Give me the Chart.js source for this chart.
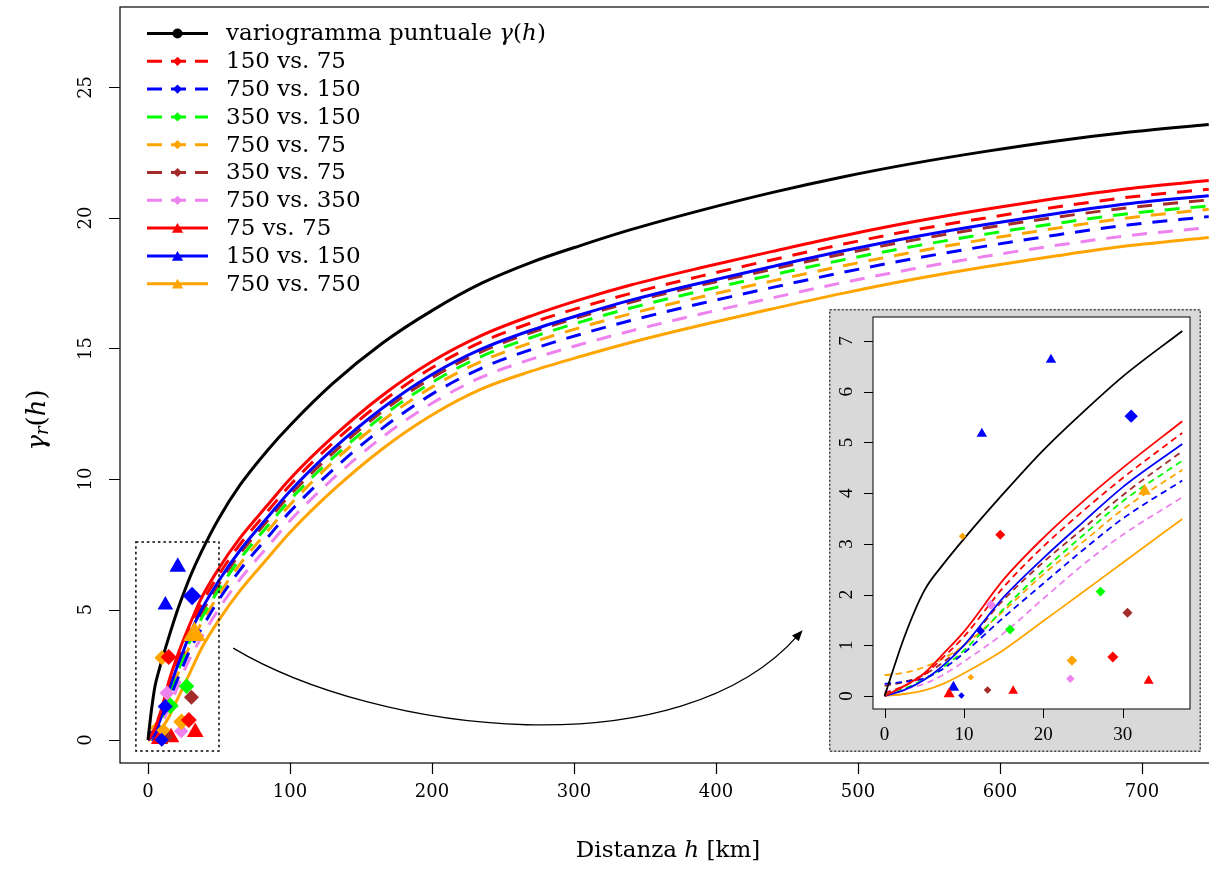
<!DOCTYPE html>
<html>
<head>
<meta charset="utf-8">
<title>Variogramma regolarizzato</title>
<script src="https://cdn.jsdelivr.net/npm/chart.js@4.4.1/dist/chart.umd.min.js"></script>
<style>
  html, body { margin: 0; padding: 0; background: #fff; overflow: hidden; }
  #wrap { position: relative; width: 1209px; height: 870px; overflow: hidden; }
  #main { position: absolute; left: 0; top: 0; }
  #inset { position: absolute; left: 829px; top: 309px; }
</style>
</head>
<body>
<div id="wrap">
  <canvas id="main" width="1212" height="870"></canvas>
  <canvas id="inset" width="372" height="443"></canvas>
</div>
<script>
// lags (km) where the model curves are tabulated
const lagGrid = [0, 2.5, 5, 7.5, 10, 15, 20, 25, 30, 37.5, 50, 65, 85, 100, 130, 165, 200, 235, 270, 305, 340, 390, 440, 490, 540, 590, 640, 690, 747];

// point variogram gamma(h)
const gammaPoint = [0, 1.17, 2.08, 2.62, 3.1, 4.0, 4.85, 5.6, 6.3, 7.2, 8.5, 9.78, 11.15, 12.05, 13.65, 15.2, 16.45, 17.5, 18.3, 18.95, 19.55, 20.3, 20.98, 21.58, 22.1, 22.55, 22.95, 23.28, 23.58];

// regularized variograms, one for each pair of supports
const g150v75  = [0.05, 0.2, 0.42, 0.78, 1.17, 2.15, 2.95, 3.65, 4.3, 5.19, 6.34, 7.51, 8.81, 9.76, 11.37, 12.96, 14.26, 15.25, 15.98, 16.58, 17.11, 17.78, 18.4, 19.0, 19.54, 20.0, 20.42, 20.79, 21.1];
const g750v150 = [0.24, 0.28, 0.35, 0.55, 0.85, 1.55, 2.22, 2.88, 3.5, 4.25, 5.38, 6.53, 7.81, 8.75, 10.34, 11.94, 13.25, 14.25, 14.96, 15.55, 16.07, 16.73, 17.34, 17.92, 18.45, 18.92, 19.35, 19.73, 20.05];
const g350v150 = [0.05, 0.15, 0.33, 0.58, 0.9, 1.72, 2.48, 3.17, 3.84, 4.64, 5.78, 6.95, 8.25, 9.2, 10.8, 12.4, 13.7, 14.7, 15.42, 16.02, 16.55, 17.21, 17.82, 18.4, 18.92, 19.38, 19.79, 20.16, 20.46];
const g750v75  = [0.41, 0.46, 0.57, 0.75, 1.0, 1.68, 2.4, 3.04, 3.68, 4.46, 5.58, 6.75, 8.05, 9.01, 10.64, 12.23, 13.52, 14.51, 15.22, 15.81, 16.33, 16.98, 17.59, 18.17, 18.7, 19.18, 19.61, 20.0, 20.33];
const g350v75  = [0.2, 0.28, 0.42, 0.68, 1.0, 1.9, 2.64, 3.3, 3.96, 4.83, 5.98, 7.15, 8.45, 9.38, 10.98, 12.58, 13.88, 14.88, 15.61, 16.22, 16.77, 17.43, 18.04, 18.63, 19.16, 19.62, 20.03, 20.39, 20.69];
const g750v350 = [0.09, 0.14, 0.24, 0.43, 0.68, 1.24, 1.92, 2.59, 3.18, 3.92, 5.03, 6.17, 7.45, 8.4, 10.0, 11.6, 12.9, 13.9, 14.59, 15.16, 15.67, 16.33, 16.94, 17.53, 18.06, 18.53, 18.95, 19.32, 19.63];
const g75v75   = [0, 0.2, 0.45, 0.85, 1.27, 2.3, 3.12, 3.84, 4.5, 5.42, 6.58, 7.75, 9.05, 10.0, 11.6, 13.2, 14.5, 15.5, 16.25, 16.88, 17.43, 18.1, 18.72, 19.32, 19.86, 20.33, 20.75, 21.12, 21.43];
const g150v150 = [0, 0.12, 0.32, 0.62, 1.0, 1.95, 2.72, 3.43, 4.12, 4.97, 6.11, 7.28, 8.58, 9.53, 11.13, 12.71, 14.0, 14.98, 15.7, 16.3, 16.85, 17.52, 18.14, 18.74, 19.28, 19.75, 20.17, 20.54, 20.85];
const g750v750 = [0, 0.04, 0.11, 0.25, 0.45, 0.91, 1.48, 2.05, 2.63, 3.49, 4.6, 5.73, 7.01, 7.95, 9.55, 11.15, 12.45, 13.45, 14.13, 14.7, 15.23, 15.9, 16.52, 17.12, 17.66, 18.13, 18.55, 18.93, 19.25];

const pairNames = ["150 vs. 75", "750 vs. 150", "350 vs. 150", "750 vs. 75", "350 vs. 75", "750 vs. 350", "75 vs. 75", "150 vs. 150", "750 vs. 750"];
const pairCurves = [g150v75, g750v150, g350v150, g750v75, g350v75, g750v350, g75v75, g150v150, g750v750];

// experimental cross values (lag, gamma, index of the pair)
const obsLag   = [14.57, 28.75, 31.06, 12.1, 9.68, 27.2, 15.8, 9.81, 23.6, 10.86, 30.6, 12.97, 13.4, 23.4, 33.26, 16.2, 8.13, 20.96, 12.25, 8.67, 32.75];
const obsGamma = [3.18, 0.77, 5.52, 1.28, 0.01, 2.06, 1.31, 3.15, 0.70, 0.37, 1.64, 0.12, 1.80, 0.34, 0.30, 0.10, 0.04, 6.63, 5.17, 0.17, 4.04];
const obsPair  = [0, 0, 1, 1, 1, 2, 2, 3, 3, 3, 4, 4, 5, 5, 6, 6, 6, 7, 7, 7, 8];

// ticks
const mainTicksX = [0, 100, 200, 300, 400, 500, 600, 700];
const mainTicksY = [0, 5, 10, 15, 20, 25];
const insetTicksX = [0, 10, 20, 30];
const insetTicksY = [0, 1, 2, 3, 4, 5, 6, 7];

// styling
const pairColors = ["#ff0000", "#0000ff", "#00ff00", "#ffa500", "#a52a2a", "#ee82ee", "#ff0000", "#0000ff", "#ffa500"];
const markSizeMain  = [8, 8, 9.2, 7.5, 7, 7.8, 8.3, 7.5, 8.3, 7, 7.5, 7, 7.5, 7.2, 9.6, 9.6, 10, 9.6, 9, 10.5, 13];
const markSizeInset = [5, 5.5, 6.7, 4.3, 3.2, 4.9, 5, 3.7, 5.3, 3.3, 5, 3.8, 5, 4.2, 5.8, 5.6, 6.4, 6, 6, 6.7, 7.3];
const zoomBox = [-8.5, 50, -0.42, 7.59]; // x0, x1, y0, y1 of the enlarged area
const arrowPath = [[60, 3.52], [163, 0.19], [375, -1.15], [461, 4.21]];

const rm = s => s + 'px "DejaVu Serif"';
const it = s => 'italic ' + s + 'px "DejaVu Serif"';

function isSolid(p) {
	return p >= 6;
}

//datasets: markers first so they are painted on top of the curves
function buildDatasets(maxLag, lw, dash, sizes) {
	let sets = [];
	pairNames.forEach((name, p) => {
		let pts = [], rad = [];
		obsLag.forEach((h, i) => {
			if (obsPair[i] === p) {
				pts.push({ x: h, y: obsGamma[i] });
				rad.push(sizes[i]);
			}
		});
		sets.push({
			label: name,
			data: pts,
			showLine: false,
			pointStyle: isSolid(p) ? "triangle" : "rectRot",
			pointRadius: rad,
			pointBackgroundColor: pairColors[p],
			pointBorderWidth: 0,
		});
	});
	let curve = ys => lagGrid.map((h, i) => ({ x: h, y: ys[i] })).filter(d => d.x <= maxLag);
	let lines = [{ ys: gammaPoint, color: "#000", solid: true }];
	[6, 7, 8].forEach(p => lines.push({ ys: pairCurves[p], color: pairColors[p], solid: true }));
	[0, 1, 2, 3, 4, 5].forEach(p => lines.push({ ys: pairCurves[p], color: pairColors[p], solid: false }));
	lines.forEach(l => {
		sets.push({
			data: curve(l.ys),
			showLine: true,
			pointRadius: 0,
			borderColor: l.color,
			borderWidth: lw,
			borderDash: l.solid ? [] : dash,
			borderJoinStyle: "round",
			cubicInterpolationMode: "monotone",
			fill: false,
		});
	});
	return sets;
}

//text made of roman and italic pieces
function richText(ctx, parts, x, y, align) {
	let w = parts.map(part => {
		ctx.font = part[1];
		return ctx.measureText(part[0]).width;
	});
	let cx = align === "center" ? x - w.reduce((s, v) => s + v, 0) / 2 : x;
	ctx.textAlign = "left";
	parts.forEach((part, i) => {
		ctx.font = part[1];
		ctx.fillText(part[0], cx, y + (part[2] || 0));
		cx += w[i];
	});
}

function marker(ctx, style, x, y, r, color) {
	ctx.fillStyle = color;
	ctx.beginPath();
	if (style === "circle") {
		ctx.arc(x, y, r, 0, Math.PI * 2);
	} else if (style === "triangle") {
		for (let k = 0; k < 3; k++) {
			let a = k * 2 * Math.PI / 3;
			ctx[k ? "lineTo" : "moveTo"](x + Math.sin(a) * r, y - Math.cos(a) * r);
		}
	} else {
		ctx.moveTo(x - r, y);
		ctx.lineTo(x, y - r);
		ctx.lineTo(x + r, y);
		ctx.lineTo(x, y + r);
	}
	ctx.closePath();
	ctx.fill();
}

//box, tick marks and tick labels in the R style
function drawAxes(chart, o) {
	const ctx = chart.ctx, a = chart.chartArea, sx = chart.scales.x, sy = chart.scales.y;
	ctx.save();
	ctx.strokeStyle = "#000";
	ctx.lineWidth = o.lw;
	ctx.setLineDash([]);
	ctx.strokeRect(a.left, a.top, a.right - a.left, a.bottom - a.top);
	ctx.beginPath();
	o.ticksX.forEach(v => {
		let px = Math.round(sx.getPixelForValue(v)) + 0.5;
		ctx.moveTo(px, a.bottom);
		ctx.lineTo(px, a.bottom + o.tick);
	});
	o.ticksY.forEach(v => {
		let py = Math.round(sy.getPixelForValue(v)) + 0.5;
		ctx.moveTo(a.left, py);
		ctx.lineTo(a.left - o.tick, py);
	});
	ctx.stroke();
	ctx.fillStyle = "#000";
	ctx.font = o.font;
	ctx.textAlign = "center";
	ctx.textBaseline = "middle";
	o.ticksX.forEach(v => ctx.fillText(String(v), sx.getPixelForValue(v), a.bottom + o.gapX));
	o.ticksY.forEach(v => {
		ctx.save();
		ctx.translate(a.left - o.gapY, sy.getPixelForValue(v));
		ctx.rotate(-Math.PI / 2);
		ctx.fillText(String(v), 0, 0);
		ctx.restore();
	});
	ctx.restore();
}

const mainFrame = {
	id: "mainFrame",
	beforeDraw(chart) {
		const ctx = chart.ctx;
		ctx.save();
		ctx.fillStyle = "#fff";
		ctx.fillRect(0, 0, chart.width, chart.height);
		ctx.restore();
	},
	afterDraw(chart) {
		const ctx = chart.ctx, sx = chart.scales.x, sy = chart.scales.y;
		drawAxes(chart, { lw: 1.2, tick: 11, gapX: 29, gapY: 33.5, font: rm(18), ticksX: mainTicksX, ticksY: mainTicksY });
		ctx.save();
		ctx.fillStyle = "#000";
		ctx.textBaseline = "middle";
		// axis titles
		richText(ctx, [["Distanza ", rm(23)], ["h", it(23)], [" [km]", rm(23)]], 668, 851, "center");
		ctx.save();
		ctx.translate(38, 420);
		ctx.rotate(-Math.PI / 2);
		richText(ctx, [["γ", it(26)], ["r", it(18), 5], ["(", rm(26)], ["h", it(26)], [")", rm(26)]], 0, 0, "center");
		ctx.restore();

		// dotted frame around the enlarged region
		let x0 = sx.getPixelForValue(zoomBox[0]), x1 = sx.getPixelForValue(zoomBox[1]);
		let y0 = sy.getPixelForValue(zoomBox[2]), y1 = sy.getPixelForValue(zoomBox[3]);
		ctx.strokeStyle = "#000";
		ctx.lineWidth = 1.5;
		ctx.setLineDash([2.5, 3]);
		ctx.strokeRect(x0, y1, x1 - x0, y0 - y1);
		ctx.setLineDash([]);

		// curved arrow pointing to the inset
		let p = arrowPath.map(q => [sx.getPixelForValue(q[0]), sy.getPixelForValue(q[1])]);
		ctx.lineWidth = 1.3;
		ctx.beginPath();
		ctx.moveTo(p[0][0], p[0][1]);
		ctx.bezierCurveTo(p[1][0], p[1][1], p[2][0], p[2][1], p[3][0] - 4, p[3][1] + 4.5);
		ctx.stroke();
		let ang = Math.atan2(p[3][1] - p[2][1], p[3][0] - p[2][0]);
		ctx.beginPath();
		ctx.moveTo(p[3][0], p[3][1]);
		ctx.lineTo(p[3][0] - 11 * Math.cos(ang) + 4.5 * Math.sin(ang), p[3][1] - 11 * Math.sin(ang) - 4.5 * Math.cos(ang));
		ctx.lineTo(p[3][0] - 11 * Math.cos(ang) - 4.5 * Math.sin(ang), p[3][1] - 11 * Math.sin(ang) + 4.5 * Math.cos(ang));
		ctx.closePath();
		ctx.fill();

		// legend
		let rows = [{ color: "#000", solid: true, mark: "circle", r: 5, text: [["variogramma puntuale ", rm(23)], ["γ", it(23)], ["(", rm(23)], ["h", it(23)], [")", rm(23)]] }];
		pairNames.forEach((name, i) => {
			rows.push({ color: pairColors[i], solid: isSolid(i), mark: isSolid(i) ? "triangle" : "diamond", r: isSolid(i) ? 6.5 : 4.6, text: [[name, rm(23)]] });
		});
		rows.forEach((row, i) => {
			let y = 33.5 + i * 27.8;
			ctx.strokeStyle = row.color;
			ctx.lineWidth = 3;
			ctx.setLineDash(row.solid ? [] : [15, 9]);
			ctx.beginPath();
			ctx.moveTo(147, y);
			ctx.lineTo(208, y);
			ctx.stroke();
			ctx.setLineDash([]);
			marker(ctx, row.mark, 177.5, y + (row.mark === "triangle" ? 1.5 : 0), row.r, row.color);
			ctx.fillStyle = "#000";
			richText(ctx, row.text, 226, y + 1, "left");
		});
		ctx.restore();
	},
};

const insetFrame = {
	id: "insetFrame",
	beforeDraw(chart) {
		const ctx = chart.ctx, a = chart.chartArea;
		ctx.save();
		ctx.fillStyle = "#d9d9d9";
		ctx.fillRect(0, 0, chart.width, chart.height);
		ctx.fillStyle = "#fff";
		ctx.fillRect(a.left, a.top, a.right - a.left, a.bottom - a.top);
		ctx.restore();
	},
	afterDraw(chart) {
		const ctx = chart.ctx;
		drawAxes(chart, { lw: 1, tick: 9, gapX: 26, gapY: 26, font: '19px "Liberation Serif"', ticksX: insetTicksX, ticksY: insetTicksY });
		ctx.save();
		ctx.strokeStyle = "#444";
		ctx.lineWidth = 1.5;
		ctx.setLineDash([2, 2]);
		ctx.strokeRect(0.75, 0.75, chart.width - 1.5, chart.height - 1.5);
		ctx.restore();
	},
};

let mainChart = new Chart(document.getElementById("main"), {
	type: "scatter",
	data: { datasets: buildDatasets(lagGrid[lagGrid.length - 1], 3, [15, 11], markSizeMain) },
	options: {
		responsive: false,
		animation: false,
		events: [],
		layout: { autoPadding: false, padding: { left: 120, top: 7, right: 0, bottom: 107 } },
		scales: {
			x: { type: "linear", min: -19.7, max: 749.3, display: false },
			y: { type: "linear", min: -0.88, max: 28.08, display: false },
		},
		plugins: { legend: { display: false }, tooltip: { enabled: false } },
	},
	plugins: [mainFrame],
});

//inset: same data, first 37.5 km only
let insetChart = new Chart(document.getElementById("inset"), {
	type: "scatter",
	data: { datasets: buildDatasets(37.5, 1.8, [6.5, 4.5], markSizeInset) },
	options: {
		responsive: false,
		animation: false,
		events: [],
		layout: { autoPadding: false, padding: { left: 44, top: 8, right: 11, bottom: 43 } },
		scales: {
			x: { type: "linear", min: -1.46, max: 38.47, display: false },
			y: { type: "linear", min: -0.256, max: 7.475, display: false },
		},
		plugins: { legend: { display: false }, tooltip: { enabled: false } },
	},
	plugins: [insetFrame],
});
</script>
</body>
</html>
